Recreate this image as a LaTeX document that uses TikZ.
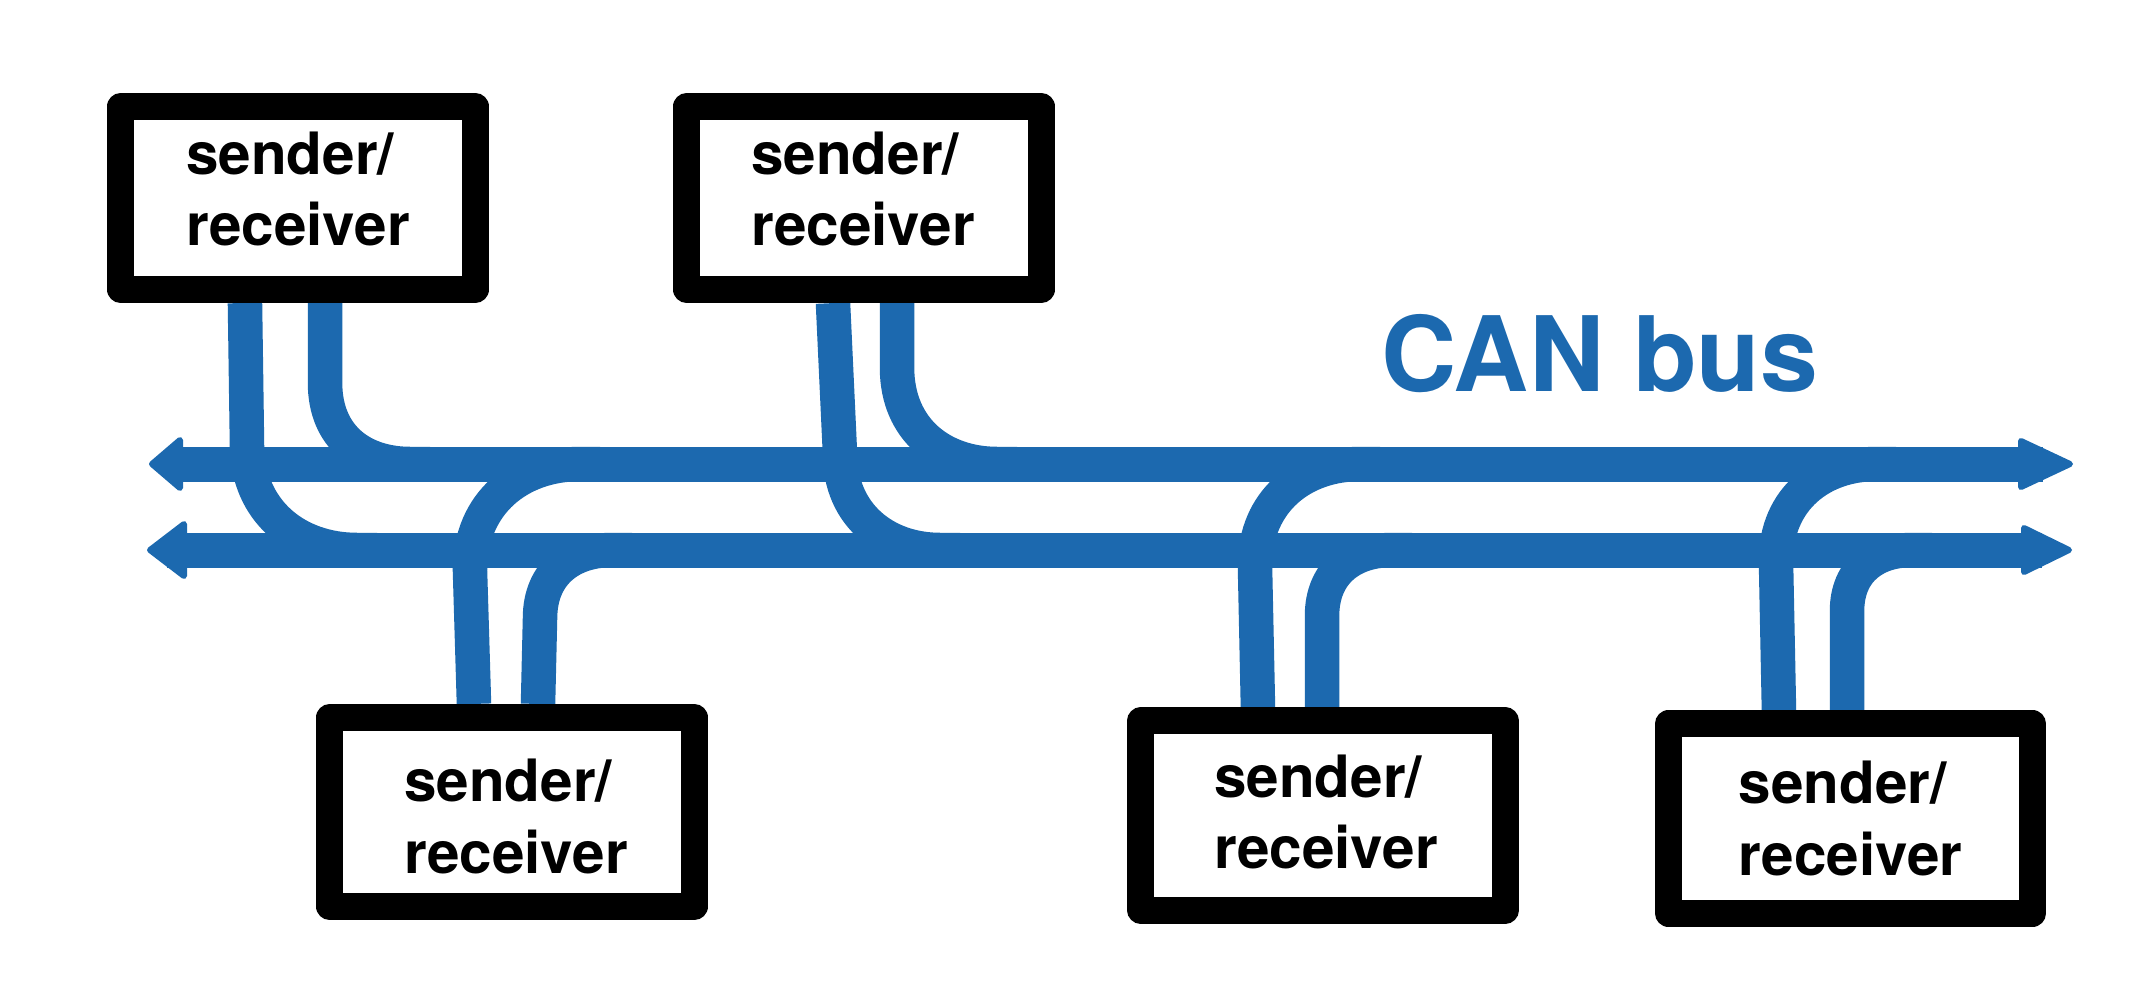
\documentclass[tikz,border=0pt]{standalone}
\usepackage{fontspec}
\setmainfont{TeX Gyre Heros}
\definecolor{canblue}{RGB}{28,105,175}
\pgfdeclarelayer{bg}
\pgfsetlayers{bg,main}
\begin{document}
\begin{tikzpicture}[x=0.01cm,y=-0.01cm,
  bus/.style={draw=canblue,line width=0.35cm},
  wire/.style={draw=canblue,line width=0.345cm},
  head/.style={fill=canblue,draw=canblue,line width=0.06cm,line join=round},
  box/.style={draw=black,fill=white,line width=0.27cm,line join=round,inner sep=0pt},
  topbox/.style={box,minimum width=3.54cm,minimum height=1.83cm},
  botbox/.style={box,minimum width=3.64cm,minimum height=1.89cm},
  lbl/.style={font={\fontsize{16.6pt}{20.4pt}\selectfont\bfseries},align=left,inner sep=0pt},
  title/.style={font={\fontsize{29.6pt}{34pt}\selectfont\bfseries},text=canblue,inner sep=0pt},
]
\useasboundingbox (0,0) rectangle (2154,996);

% boxes
\node[topbox] (b1) at (298,198) {};
\node[topbox] (b2) at (864,198) {};
\node[botbox] (b3) at (512,812) {};
\node[botbox] (b4) at (1323,815.5) {};
\node[botbox] (b5) at (1850.5,818.5) {};

% labels
\node[lbl] (t1) at ([yshift=0.09cm]b1.center) {sender/\\receiver};
\node[lbl] (t2) at ([xshift=-0.01cm,yshift=0.09cm]b2.center) {sender/\\receiver};
\node[lbl] (t3) at ([xshift=0.04cm,yshift=-0.045cm]b3.center) {sender/\\receiver};
\node[lbl] (t4) at ([xshift=0.03cm,yshift=0.035cm]b4.center) {sender/\\receiver};
\node[lbl] (t5) at (b5.center) {sender/\\receiver};

\node[title,anchor=base] (can) at (1600,391) {CAN bus};

% bus end points
\coordinate (aTL) at (149,464);
\coordinate (aBL) at (147,550);
\coordinate (aTR) at (2073,464);
\coordinate (aBR) at (2072,550);

% junctions on the bus
\coordinate (j1a) at (357,550);
\coordinate (j1b) at (410,464);
\coordinate (j2a) at (940,550);
\coordinate (j2b) at (997,464);
\coordinate (j3a) at (580,464);
\coordinate (j3b) at (612,550);
\coordinate (j4a) at (1360,464);
\coordinate (j4b) at (1392,550);
\coordinate (j5a) at (1876,464);
\coordinate (j5b) at (1912,550);

\begin{pgfonlayer}{bg}
  \fill[white] (0,0) rectangle (2154,996);
  % bus lines
  \draw[bus] ([xshift=0.2cm]aTL) -- ([xshift=-0.3cm]aTR);
  \draw[bus] ([xshift=0.2cm]aBL) -- ([xshift=-0.3cm]aBR);
  % arrow heads
  \filldraw[head] (aTL) ++(3,0) -- ++(28,-24) -- ++(0,48) -- cycle;
  \filldraw[head] (aBL) ++(3,0) -- ++(34,-26) -- ++(0,52) -- cycle;
  \filldraw[head] (aTR) ++(-3,0) -- ++(-49,-23) -- ++(0,46) -- cycle;
  \filldraw[head] (aBR) ++(-3,0) -- ++(-45,-22) -- ++(0,44) -- cycle;

  % wires of box 1
  \draw[wire] ([xshift=-0.53cm]b1.south) -- ++(2,140.5)
     .. controls +(0,68) and +(-60,0) .. (j1a) -- ++(20,0);
  \draw[wire] ([xshift=0.27cm]b1.south) -- ++(0,79.5)
     .. controls +(0,56) and +(-46,0) .. (j1b) -- ++(20,0);
  % wires of box 2
  \draw[wire] ([xshift=-0.31cm]b2.south) -- ++(7,150.5)
     .. controls +(0,62) and +(-54,0) .. (j2a) -- ++(20,0);
  \draw[wire] ([xshift=0.33cm]b2.south) -- ++(0,64.5)
     .. controls +(0,63) and +(-54,0) .. (j2b) -- ++(20,0);
  % wires of box 3
  \draw[wire] ([xshift=-0.38cm]b3.north) -- ++(-4,-133.5)
     .. controls +(0,-68) and +(-60,0) .. (j3a) -- ++(20,0);
  \draw[wire] ([xshift=0.26cm]b3.north) -- ++(2,-85.5)
     .. controls +(0,-47) and +(-39,0) .. (j3b) -- ++(20,0);
  % wires of box 4
  \draw[wire] ([xshift=-0.65cm]b4.north) -- ++(-3,-142)
     .. controls +(0,-65) and +(-57,0) .. (j4a) -- ++(20,0);
  \draw[wire] ([xshift=-0.01cm]b4.north) -- ++(0,-91)
     .. controls +(0,-46) and +(-38,0) .. (j4b) -- ++(20,0);
  % wires of box 5
  \draw[wire] ([xshift=-0.715cm]b5.north) -- ++(-3,-150)
     .. controls +(0,-62) and +(-54,0) .. (j5a) -- ++(20,0);
  \draw[wire] ([xshift=-0.035cm]b5.north) -- ++(0,-99)
     .. controls +(0,-43) and +(-35,0) .. (j5b) -- ++(20,0);
\end{pgfonlayer}
\end{tikzpicture}
\end{document}
